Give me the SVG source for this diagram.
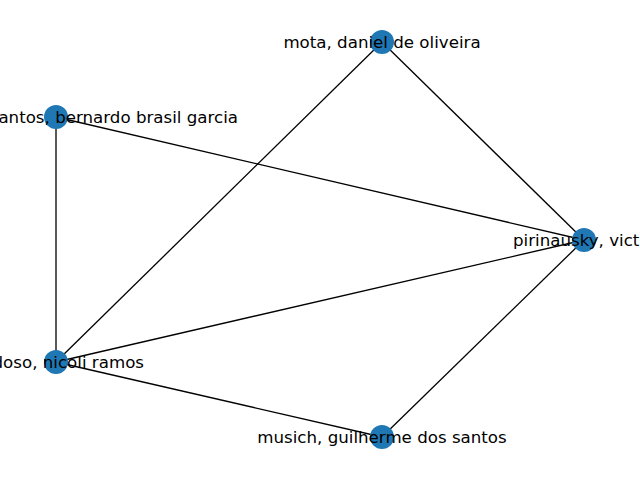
<svg xmlns="http://www.w3.org/2000/svg" width="640" height="480" viewBox="0 0 640 480">
<style>
.e{stroke:#000;stroke-width:1.3;fill:none}
.n{fill:#1f77b4}
.t{font-family:"DejaVu Sans",sans-serif;font-size:16.67px;fill:#000}
</style>
<rect width="640" height="480" fill="#fff"/>
<g id="edges">
<line class="e" x1="382" y1="42" x2="584" y2="240"/>
<line class="e" x1="382" y1="42" x2="56" y2="362"/>
<line class="e" x1="56" y1="117" x2="584" y2="240"/>
<line class="e" x1="56" y1="117" x2="56" y2="362"/>
<line class="e" x1="56" y1="362" x2="584" y2="240"/>
<line class="e" x1="56" y1="362" x2="382" y2="437"/>
<line class="e" x1="382" y1="437" x2="584" y2="240"/>
</g>
<g id="node-mota"><circle class="n" cx="382" cy="42" r="12"/><text class="t" x="382" y="47.5" text-anchor="middle">mota, daniel de oliveira</text></g>
<g id="node-santos"><circle class="n" cx="56" cy="117" r="12"/><text class="t" x="238" y="122.5" text-anchor="end">antos, bernardo brasil garcia</text></g>
<g id="node-pirinausky"><circle class="n" cx="584" cy="240" r="12"/><text class="t" x="513" y="245.5">pirinausky, vict</text></g>
<g id="node-cardoso"><circle class="n" cx="56" cy="362" r="12"/><text class="t" x="144" y="367.5" text-anchor="end">doso, nicoli ramos</text></g>
<g id="node-musich"><circle class="n" cx="382" cy="437" r="12"/><text class="t" x="382" y="442.5" text-anchor="middle">musich, guilherme dos santos</text></g>
</svg>
